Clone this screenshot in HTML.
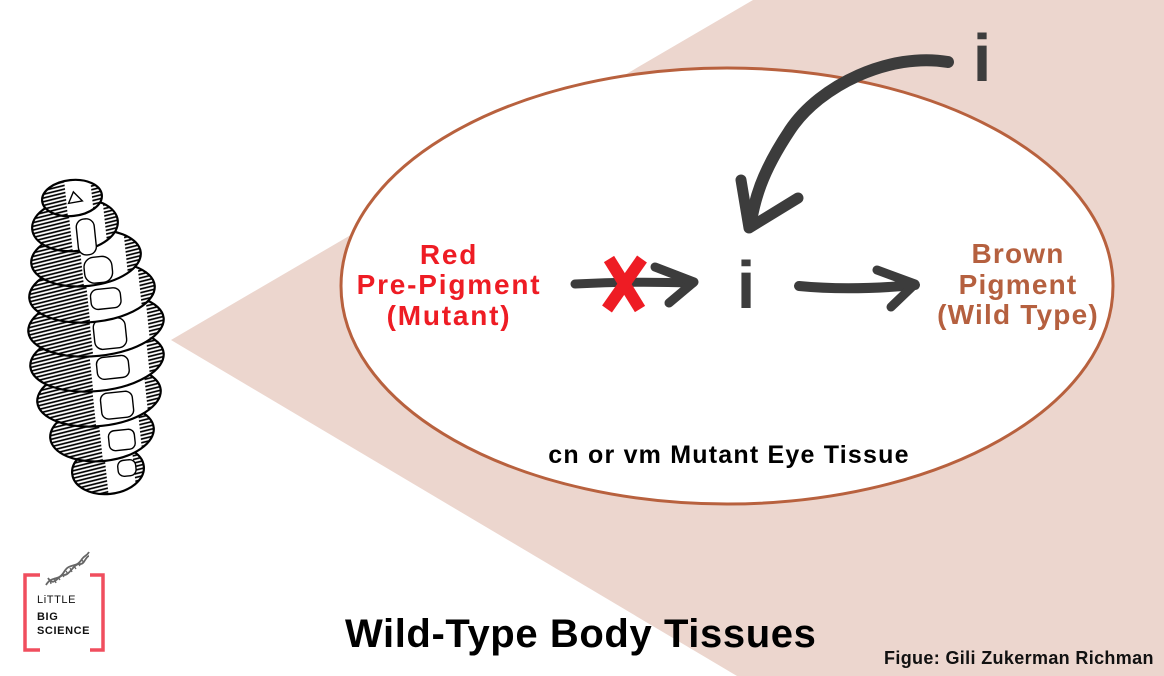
<!DOCTYPE html>
<html><head><meta charset="utf-8"><style>
html,body{margin:0;padding:0;background:#fff;}
svg{display:block;}
text{font-family:"Liberation Sans",sans-serif;}
</style></head><body>
<svg width="1164" height="676" viewBox="0 0 1164 676" xmlns="http://www.w3.org/2000/svg">
<defs>
<pattern id="hatch" width="8" height="3.6" patternUnits="userSpaceOnUse" patternTransform="rotate(-8)">
<line x1="0" y1="1.2" x2="8" y2="1.2" stroke="#000" stroke-width="1.7"/>
</pattern>
<clipPath id="c1"><ellipse cx="72" cy="198" rx="30" ry="18"/></clipPath>
<clipPath id="c2"><ellipse cx="75" cy="225" rx="43" ry="26"/></clipPath>
<clipPath id="c3"><ellipse cx="86" cy="258" rx="55" ry="28"/></clipPath>
<clipPath id="c4"><ellipse cx="92" cy="292" rx="63" ry="30"/></clipPath>
<clipPath id="c5"><ellipse cx="96" cy="325" rx="68" ry="31"/></clipPath>
<clipPath id="c6"><ellipse cx="97" cy="360" rx="67" ry="31"/></clipPath>
<clipPath id="c7"><ellipse cx="99" cy="396" rx="62" ry="30"/></clipPath>
<clipPath id="c8"><ellipse cx="102" cy="433" rx="52" ry="28"/></clipPath>
<clipPath id="c9"><ellipse cx="108" cy="470" rx="36" ry="24"/></clipPath>
</defs>

<!-- pink cone -->
<polygon points="171,340 753,0 1164,0 1164,676 737,676" fill="#ecd6ce"/>

<!-- ellipse -->
<ellipse cx="727" cy="286" rx="386" ry="218" fill="#fff" stroke="#b8613e" stroke-width="3"/>

<!-- larva (bottom to top) -->
<g stroke="#000" stroke-width="2.2">
<g transform="rotate(-6 108 470)">
<ellipse cx="108" cy="470" rx="36" ry="24" fill="#fff"/>
<g clip-path="url(#c9)" stroke="none"><rect x="72" y="446" width="34" height="48" fill="url(#hatch)"/><rect x="134" y="446" width="10" height="48" fill="url(#hatch)"/></g>
<rect x="118" y="462" width="18" height="16" rx="6" fill="#fff" stroke-width="1.4"/>
</g>
<g transform="rotate(-6 102 433)">
<ellipse cx="102" cy="433" rx="52" ry="28" fill="#fff"/>
<g clip-path="url(#c8)" stroke="none"><rect x="50" y="405" width="50" height="56" fill="url(#hatch)"/><rect x="140" y="405" width="14" height="56" fill="url(#hatch)"/></g>
<rect x="108" y="432" width="26" height="20" rx="6" fill="#fff" stroke-width="1.4"/>
</g>
<g transform="rotate(-6 99 396)">
<ellipse cx="99" cy="396" rx="62" ry="30" fill="#fff"/>
<g clip-path="url(#c7)" stroke="none"><rect x="37" y="366" width="56" height="60" fill="url(#hatch)"/><rect x="146" y="366" width="15" height="60" fill="url(#hatch)"/></g>
<rect x="100" y="394" width="32" height="26" rx="7" fill="#fff" stroke-width="1.4"/>
</g>
<g transform="rotate(-6 97 360)">
<ellipse cx="97" cy="360" rx="67" ry="31" fill="#fff"/>
<g clip-path="url(#c6)" stroke="none"><rect x="30" y="329" width="60" height="62" fill="url(#hatch)"/><rect x="148" y="329" width="16" height="62" fill="url(#hatch)"/></g>
<rect x="96" y="358" width="32" height="22" rx="7" fill="#fff" stroke-width="1.4"/>
</g>
<g transform="rotate(-6 96 325)">
<ellipse cx="96" cy="325" rx="68" ry="31" fill="#fff"/>
<g clip-path="url(#c5)" stroke="none"><rect x="28" y="294" width="62" height="62" fill="url(#hatch)"/><rect x="148" y="294" width="16" height="62" fill="url(#hatch)"/></g>
<rect x="93" y="320" width="32" height="30" rx="8" fill="#fff" stroke-width="1.4"/>
</g>
<g transform="rotate(-6 92 292)">
<ellipse cx="92" cy="292" rx="63" ry="30" fill="#fff"/>
<g clip-path="url(#c4)" stroke="none"><rect x="29" y="262" width="58" height="60" fill="url(#hatch)"/><rect x="140" y="262" width="15" height="60" fill="url(#hatch)"/></g>
<rect x="90" y="290" width="30" height="20" rx="7" fill="#fff" stroke-width="1.4"/>
</g>
<g transform="rotate(-6 86 258)">
<ellipse cx="86" cy="258" rx="55" ry="28" fill="#fff"/>
<g clip-path="url(#c3)" stroke="none"><rect x="31" y="230" width="50" height="56" fill="url(#hatch)"/><rect x="126" y="230" width="15" height="56" fill="url(#hatch)"/></g>
<rect x="83" y="258" width="28" height="26" rx="10" fill="#fff" stroke-width="1.4"/>
</g>
<g transform="rotate(-6 75 225)">
<ellipse cx="75" cy="225" rx="43" ry="26" fill="#fff"/>
<g clip-path="url(#c2)" stroke="none"><rect x="32" y="199" width="38" height="52" fill="url(#hatch)"/><rect x="105" y="199" width="13" height="52" fill="url(#hatch)"/></g>
<rect x="76" y="220" width="18" height="36" rx="8" fill="#fff" stroke-width="1.4"/>
</g>
<g transform="rotate(-6 72 198)">
<ellipse cx="72" cy="198" rx="30" ry="18" fill="#fff"/>
<g clip-path="url(#c1)" stroke="none"><rect x="42" y="180" width="24" height="36" fill="url(#hatch)"/><rect x="92" y="180" width="10" height="36" fill="url(#hatch)"/></g>
<path d="M68,203 L74,192 L82,202 Z" fill="#fff" stroke-width="1.4"/>
</g>
</g>

<!-- labels -->
<g font-weight="bold" font-size="28" fill="#ee1c24" text-anchor="middle" letter-spacing="1.8">
<text x="449" y="264">Red</text>
<text x="449" y="294">Pre-Pigment</text>
<text x="449" y="325">(Mutant)</text>
</g>
<g font-weight="bold" font-size="28" fill="#b5603f" text-anchor="middle" letter-spacing="1.2">
<text x="1018" y="263">Brown</text>
<text x="1018" y="294">Pigment</text>
<text x="1018" y="324">(Wild Type)</text>
</g>

<text x="729" y="463" font-weight="bold" font-size="25" fill="#000" text-anchor="middle" letter-spacing="1.2">cn or vm Mutant Eye Tissue</text>

<!-- i letters -->
<text x="746" y="308" font-weight="bold" font-size="67" fill="#3d3d3d" text-anchor="middle">i</text>
<text x="982" y="81" font-weight="bold" font-size="67" fill="#3d3d3d" text-anchor="middle">i</text>

<!-- arrows -->
<g fill="none" stroke="#3c3c3c" stroke-linecap="round" stroke-linejoin="round">
<path d="M575,284 Q630,281 693,283" stroke-width="9"/>
<path d="M655,267 L694,282 L669,303" stroke-width="9"/>
<path d="M799,286 Q850,291 915,285" stroke-width="10"/>
<path d="M877,270 L915,284 L891,307" stroke-width="9"/>
<path d="M948,62 C890,52 820,85 790,130 S755,200 750,226" stroke-width="12"/>
<path d="M741,180 L749,228 L798,198" stroke-width="11"/>
</g>

<!-- red X -->
<g stroke="#ee1c24" stroke-width="12" stroke-linecap="butt">
<line x1="609" y1="259" x2="640" y2="309"/>
<line x1="642" y1="259" x2="607" y2="309"/>
</g>

<!-- title -->
<text x="345" y="647" font-weight="bold" font-size="40" fill="#000" letter-spacing="0.6">Wild-Type Body Tissues</text>
<text x="884" y="664" font-weight="bold" font-size="18" fill="#111" letter-spacing="0.35">Figue: Gili Zukerman Richman</text>

<!-- logo -->
<g fill="none" stroke="#f04e5e" stroke-width="3.5">
<path d="M40,575 L25,575 L25,650 L40,650"/>
<path d="M90,575 L103,575 L103,650 L90,650"/>
</g>
<g stroke="#666" stroke-width="1.8" fill="none">
<path d="M46,585 C52,575 58,582 64,572 C70,562 76,569 82,559 C85,555 87,556 89,552"/>
<path d="M48,578 C54,588 58,575 64,575 C70,575 74,563 80,564 C84,565 86,556 89,556"/>
<path d="M50,580 L51,584 M54,578 L56,583 M58,577 L60,580 M62,574 L64,577 M66,571 L68,574 M70,568 L72,572 M74,566 L76,569 M78,563 L80,566 M82,560 L84,563" stroke-width="1.3"/>
</g>
<text x="37" y="603" font-size="11" fill="#111" letter-spacing="0.6">LiTTLE</text>
<text x="37" y="620" font-size="11" font-weight="bold" fill="#111" letter-spacing="0.6">BIG</text>
<text x="37" y="634" font-size="11" font-weight="bold" fill="#111" letter-spacing="0.6">SCIENCE</text>
</svg>
</body></html>
